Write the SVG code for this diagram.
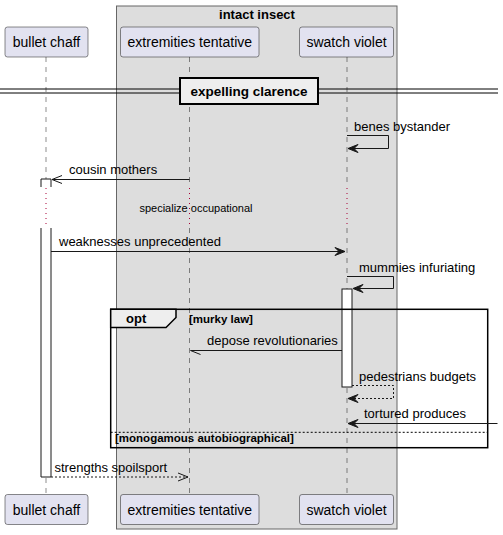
<svg xmlns="http://www.w3.org/2000/svg" width="503" height="535" viewBox="0 0 503 535">
<style>
text{font-family:"Liberation Sans",Arial,sans-serif;fill:#000}
.msg{font-size:13px}
.part{font-size:14px}
.b{font-weight:bold;font-size:13px}
.g{font-weight:bold;font-size:11.5px}
.pbox{fill:#E2E2F0;stroke:#181818;stroke-width:0.5}
.life{stroke:#181818;stroke-width:0.5;stroke-dasharray:5,5;fill:none}
.delay{stroke:#A80036;stroke-width:1;stroke-dasharray:1,4;fill:none}
.ln{stroke:#181818;stroke-width:1;fill:none}
.dash{stroke:#181818;stroke-width:1;fill:none;stroke-dasharray:2,2}
.head{fill:#181818;stroke:#181818;stroke-width:1}
.act{fill:#FFFFFF;stroke:#181818;stroke-width:1}
</style>
<g id="group-intact-insect">
<rect x="116.5" y="6" width="280.5" height="523" fill="#DDDDDD" stroke="#666666" stroke-width="1"/>
<text class="b" x="257" y="19" text-anchor="middle">intact insect</text>
</g>
<g id="lifelines">
<path class="life" d="M46,57V187M46,228V494"/>
<path class="life" d="M189.5,57V187M189.5,228V494"/>
<path class="life" d="M347,57V187M347,228V494"/>
<path class="delay" d="M46,188V228M189.5,188V228M347,188V228"/>
</g>
<g id="divider-expelling-clarence">
<path d="M0,89H498M0,93H498" stroke="#000" stroke-width="1"/>
<rect x="180" y="78" width="138" height="26" fill="#EEEEEE" stroke="#000" stroke-width="2"/>
<text x="249" y="96" text-anchor="middle" style="font-weight:bold;font-size:13.5px">expelling clarence</text>
</g>
<g id="activations">
<path class="act" d="M41,187V179H51V187"/>
<path class="act" d="M41,228V477H51V228"/>
<rect class="act" x="342" y="289" width="10" height="98"/>
</g>
<g id="frame-opt">
<rect x="110.7" y="309.3" width="377" height="138.4" fill="none" stroke="#000" stroke-width="1.5"/>
<path d="M110.7,309.3H176V317.5L166,327.5H110.7Z" fill="#EEEEEE" stroke="#000" stroke-width="1.5"/>
<text class="b" x="126" y="323">opt</text>
<text class="g" x="189" y="323">[murky law]</text>
<path d="M110.7,432.3H487.7" stroke="#000" stroke-width="1" stroke-dasharray="2,2"/>
<text class="g" x="115" y="442">[monogamous autobiographical]</text>
</g>
<g id="connectors">
<path class="ln" d="M347,135.5H388.5V148.5H348"/>
<polygon class="head" points="348,148.5 358,144.5 354,148.5 358,152.5"/>
<text class="msg" x="354" y="131">benes bystander</text>

<path class="ln" d="M189.5,179.5H52"/>
<path class="ln" d="M62,175.5L52,179.5L62,183.5"/>
<text class="msg" x="69" y="174">cousin mothers</text>

<text x="196" y="212" text-anchor="middle" style="font-size:11px">specialize occupational</text>

<path class="ln" d="M51,251.5H345"/>
<polygon class="head" points="345,251.5 335,247.5 339,251.5 335,255.5"/>
<text class="msg" x="59" y="246">weaknesses unprecedented</text>

<path class="ln" d="M347,276.5H393.5V288.5H353"/>
<polygon class="head" points="353,288.5 363,284.5 359,288.5 363,292.5"/>
<text class="msg" x="359" y="272">mummies infuriating</text>

<path class="ln" d="M342,350.5H190.5L200.5,354.5"/>
<text class="msg" x="207" y="345">depose revolutionaries</text>

<path class="dash" d="M352,385.5H393.5V398.5H348"/>
<polygon class="head" points="348,398.5 358,394.5 354,398.5 358,402.5"/>
<text class="msg" x="359" y="381">pedestrians budgets</text>

<path class="ln" d="M497.5,423.5H348"/>
<polygon class="head" points="348,423.5 358,419.5 354,423.5 358,427.5"/>
<text class="msg" x="364" y="418">tortured produces</text>

<path class="dash" d="M51,477H188"/>
<path class="ln" d="M178,473L188,477L178,481"/>
<text class="msg" x="54.5" y="472">strengths spoilsport</text>
</g>
<g id="participant-bullet-chaff">
<rect class="pbox" x="5" y="27" width="83" height="30" rx="2.5"/>
<text class="part" x="46.5" y="47" text-anchor="middle">bullet chaff</text>
<rect class="pbox" x="5" y="494.5" width="83" height="30" rx="2.5"/>
<text class="part" x="46.5" y="514.5" text-anchor="middle">bullet chaff</text>
</g>
<g id="participant-extremities-tentative">
<rect class="pbox" x="120.5" y="27" width="138.5" height="30" rx="2.5"/>
<text class="part" x="189.8" y="47" text-anchor="middle">extremities tentative</text>
<rect class="pbox" x="120.5" y="494.5" width="138.5" height="30" rx="2.5"/>
<text class="part" x="189.8" y="514.5" text-anchor="middle">extremities tentative</text>
</g>
<g id="participant-swatch-violet">
<rect class="pbox" x="299.5" y="27" width="94" height="30" rx="2.5"/>
<text class="part" x="346.5" y="47" text-anchor="middle">swatch violet</text>
<rect class="pbox" x="299.5" y="494.5" width="94" height="30" rx="2.5"/>
<text class="part" x="346.5" y="514.5" text-anchor="middle">swatch violet</text>
</g>
</svg>
